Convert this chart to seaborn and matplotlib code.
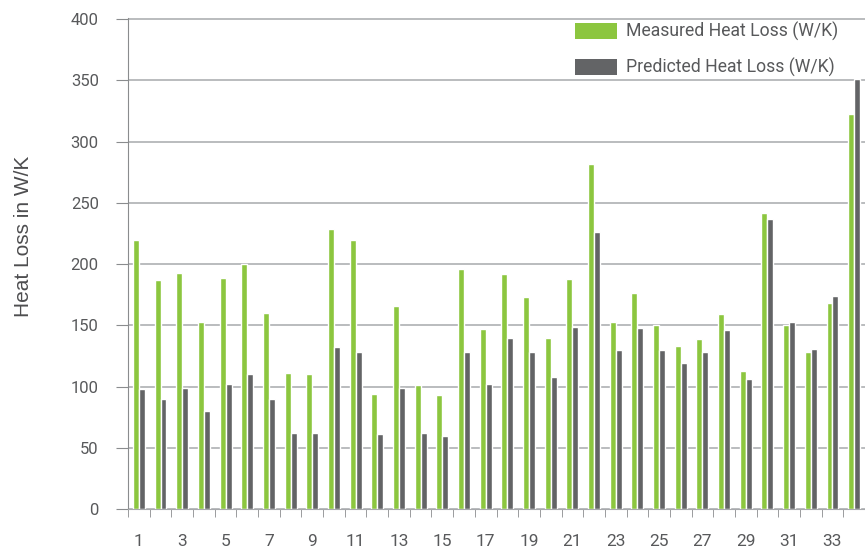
import matplotlib
matplotlib.use("Agg")
import matplotlib.pyplot as plt
from matplotlib.patches import Patch
import numpy as np
import pandas as pd
import seaborn as sns

# values
houses = [str(i) for i in range(1, 35)]
measured = [220, 187, 193, 153, 189, 200, 160, 111, 110, 229, 220, 94,
            166, 101, 93, 196, 147, 192, 173, 140, 188, 282, 153, 176,
            150, 133, 139, 159, 113, 242, 150, 128, 168, 323]
predicted = [98, 90, 99, 80, 102, 110, 90, 62, 62, 132, 128, 61,
             99, 62, 60, 128, 102, 140, 128, 108, 149, 226, 130, 148,
             130, 119, 128, 146, 106, 237, 153, 131, 174, 351]
series = ["Measured Heat Loss (W/K)", "Predicted Heat Loss (W/K)"]
colors = ["#8CC63F", "#636466"]

df = pd.DataFrame({
    "house": houses * 2,
    "value": measured + predicted,
    "series": [series[0]] * len(houses) + [series[1]] * len(houses),
})

sns.set_style("white")
plt.rcParams["font.family"] = ["Roboto", "DejaVu Sans"]
txt = "#58595B"

fig = plt.figure(figsize=(8.65, 5.51), dpi=100)
ax = fig.add_axes([128 / 865, 1 - 509 / 551, 737 / 865, 491 / 551])

sns.barplot(data=df, x="house", y="value", hue="series", palette=colors,
            width=0.55, gap=0, saturation=1, ax=ax, order=houses, legend=False)

ax.set_ylim(0, 401)
ax.set_xlim(-0.46, 33.23)
ax.set_yticks(np.arange(0, 401, 50))
ax.yaxis.grid(True, color="#A7A9AC", linewidth=1.1)
ax.set_axisbelow(True)
for s in ["top", "right"]:
    ax.spines[s].set_visible(False)
ax.spines["left"].set_color("#8A8C8E")
ax.spines["bottom"].set_color("#A7A9AC")

ax.set_xticks(range(0, 34, 2))
ax.set_xticklabels(houses[::2])
ax.set_xticks(np.arange(-0.5, 34, 1), minor=True)
ax.tick_params(axis="x", which="major", length=0, pad=18, labelsize=12.5, labelcolor=txt)
ax.tick_params(axis="x", which="minor", bottom=True, length=6, color="#8A8C8E", direction="out")
ax.tick_params(axis="y", left=True, length=9, color="#8A8C8E", pad=12, labelsize=12, labelcolor=txt)

ax.set_xlabel("")
ax.set_ylabel("Heat Loss in W/K", fontsize=15, color="#4D4D4F",
              family=["Liberation Sans", "DejaVu Sans"])
ax.yaxis.set_label_coords(-95 / 737, (509 - 236) / 491)

handles = [Patch(facecolor=c, edgecolor="none") for c in colors]
ax.legend(handles, series, frameon=False, loc="upper left",
          bbox_to_anchor=(575 / 865, 1 - 22 / 551), bbox_transform=fig.transFigure,
          borderpad=0, borderaxespad=0, fontsize=12.7, labelcolor=txt,
          handlelength=2.4, handleheight=1.05, handletextpad=0.5, labelspacing=0.95)

fig.savefig("out.png", dpi=100)
